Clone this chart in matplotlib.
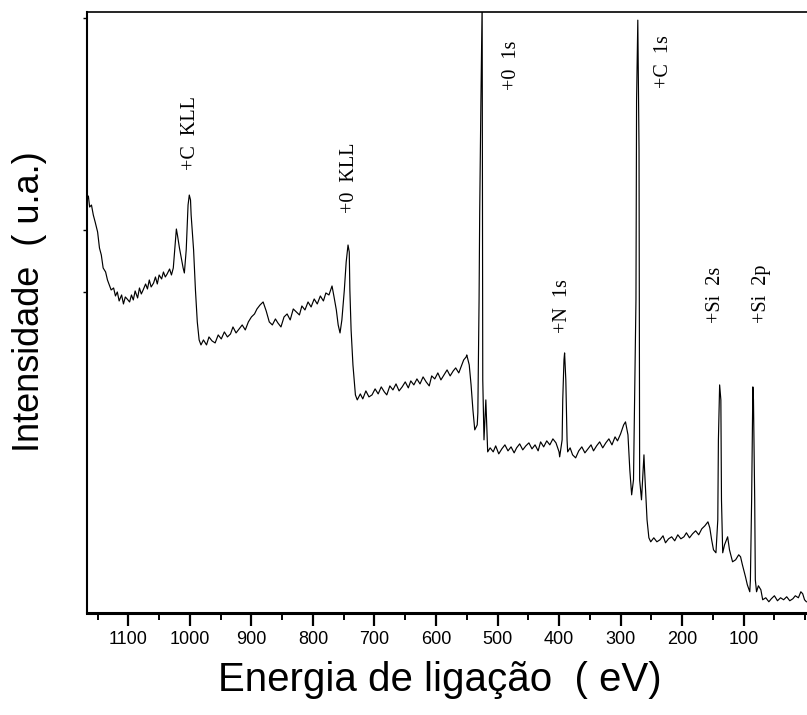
import numpy as np
import matplotlib
matplotlib.use("Agg")
import matplotlib.pyplot as plt
from matplotlib.ticker import MultipleLocator

# XPS survey spectrum (eV, arbitrary counts)
e_ckll = [1167, 1165, 1163, 1160, 1157, 1154, 1150, 1147, 1144, 1141,
          1137, 1134, 1131, 1128, 1124, 1121, 1118, 1115, 1111, 1108,
          1105, 1102, 1098, 1095, 1092, 1089, 1085, 1082, 1079, 1076,
          1072, 1069, 1066, 1063, 1059, 1056, 1053, 1050, 1046, 1043,
          1040, 1037, 1033, 1030, 1027,
          1024, 1022, 1020, 1017, 1014, 1011, 1009, 1006, 1003, 1001,
          999, 998, 994, 991, 988, 985, 982]
i_ckll = [413, 417, 406, 408, 398, 391, 381, 365, 358, 345,
          341, 333, 328, 323, 325, 317, 321, 312, 318, 309,
          316, 314, 311, 318, 313, 322, 315, 325, 319, 323,
          329, 324, 333, 326, 330, 336, 329, 338, 334, 341,
          336, 339, 344, 338, 345,
          368, 384, 377, 365, 355, 345, 340, 363, 408, 418,
          413, 398, 363, 323, 291, 273, 268]

e_okll = [978, 973, 969, 964, 959, 954, 949, 944, 939, 934,
          930, 925, 920, 915, 910, 905, 900, 895, 891, 886,
          881, 876, 871, 866, 861, 857, 852, 847, 842, 837,
          832, 827, 822, 818, 813, 808, 803, 798, 793, 788,
          783, 779, 774, 769,
          766, 762, 759, 756, 753, 749, 746, 744, 743, 741,
          740, 738, 735, 731, 728]
i_okll = [273, 268, 276, 272, 270, 278, 274, 281, 276, 279,
          286, 280, 284, 288, 283, 291, 296, 299, 304, 308,
          311, 302, 291, 288, 294, 290, 286, 296, 299, 293,
          304, 301, 298, 307, 303, 311, 306, 314, 309, 317,
          312, 320, 318, 327,
          317, 303, 288, 280, 293, 323, 351, 363, 368, 361,
          323, 283, 248, 218, 213]

e_o1s = [723, 719, 714, 709, 704, 699, 694, 689, 684, 680,
         675, 670, 665, 660, 655, 650, 645, 641, 636, 631,
         626, 621, 616, 611, 607, 602, 597, 592, 587, 582,
         577, 572, 568, 563, 558,
         555, 551, 550, 546, 543, 540, 537, 533, 532, 530,
         529, 527, 525, 524, 522, 519, 516, 512]
i_o1s = [219, 214, 222, 216, 218, 224, 219, 226, 221, 218,
         227, 223, 229, 222, 226, 231, 225, 232, 228, 234,
         229, 236, 231, 227, 237, 234, 240, 233, 238, 243,
         237, 242, 245, 240, 248,
         253, 256, 258, 248, 228, 203, 183, 188, 200, 313,
         400, 513, 610, 233, 173, 213, 161, 165]

e_n1s_c1s = [507, 503, 498, 493, 488, 483, 478, 473, 469, 464,
             459, 454, 449, 444, 439, 434, 430, 425, 420, 415,
             410, 405,
             400, 399, 395, 394, 392, 391, 389, 387, 386, 382,
             378, 373, 368, 363, 358, 353, 348, 344, 339, 334,
             329, 324, 319, 314, 309, 305, 300,
             295, 292, 288, 285, 282, 279, 275, 274, 272, 270,
             269, 266, 262, 261, 257, 254, 251]
i_n1s_c1s = [161, 167, 159, 164, 168, 162, 166, 160, 165, 169,
             163, 167, 170, 164, 168, 162, 171, 166, 172, 168,
             174, 170,
             161, 156, 173, 213, 253, 260, 233, 173, 161, 165,
             158, 155, 162, 166, 160, 164, 168, 162, 167, 171,
             165, 170, 174, 168, 176, 172, 179,
             188, 191, 178, 143, 118, 133, 313, 513, 593, 463,
             133, 113, 158, 143, 93, 75, 71]

e_si = [246, 241, 236, 231, 227, 222, 217, 212, 207, 202,
        197, 193, 188, 183, 178, 173, 168,
        163, 158, 155, 152, 149, 145, 142, 141, 139, 137,
        136, 134, 131, 126, 123, 118, 113, 108, 105, 102,
        97, 94, 90, 89, 87, 85, 84, 82, 81, 79,
        76, 72, 69]
i_si = [75, 71, 73, 77, 70, 74, 76, 72, 78, 74,
        76, 80, 75, 79, 82, 78, 84,
        87, 91, 85, 73, 63, 60, 93, 173, 228, 213,
        113, 60, 68, 76, 63, 51, 53, 58, 56, 48,
        36, 28, 21, 33, 113, 226, 213, 113, 33, 21,
        27, 23, 13]

e_tail = [64, 59, 55, 50, 45, 40, 35, 30, 25, 20, 16, 11, 7, 4, 1, -2]
i_tail = [15, 11, 14, 17, 12, 15, 13, 16, 12, 14, 17, 15, 21, 19, 13, 11]

# peak labels: text, energy, intensity where the label starts
peak_labels = ["+C  KLL", "+0  KLL", "+0  1s", "+C  1s", "+N  1s", "+Si  2s", "+Si  2p"]
peak_e = [999, 740, 478, 230, 394, 145, 71]
peak_i = [443, 400, 523, 525, 280, 290, 290]

energy = np.concatenate([e_ckll, e_okll, e_o1s, e_n1s_c1s, e_si, e_tail])
intensity = np.concatenate([i_ckll, i_okll, i_o1s, i_n1s_c1s, i_si, i_tail])

fig = plt.figure(figsize=(8.07, 7.15), dpi=100)
ax = fig.add_axes([0.108, 0.143, 0.892, 0.840])

ax.plot(energy, intensity, color="black", lw=0.85)

ax.set_xlim(1167, -3)
ax.set_ylim(0, 601)

ax.xaxis.set_minor_locator(MultipleLocator(50))
ax.set_xticks(range(100, 1101, 100))
ax.set_xticklabels([str(v) for v in range(100, 1101, 100)],
                   fontsize=13, family="Liberation Sans")
ax.tick_params(axis="x", which="major", direction="out", length=9, width=1.6, pad=4)
ax.tick_params(axis="x", which="minor", direction="out", length=5, width=1.4)

ax.set_yticks([321, 383, 595])
ax.set_yticklabels([])
ax.tick_params(axis="y", direction="out", length=3, width=1)

ax.spines["right"].set_visible(False)
ax.spines["bottom"].set_linewidth(2.2)
ax.spines["left"].set_linewidth(1.5)
ax.spines["top"].set_linewidth(1.2)

for txt, e, i in zip(peak_labels, peak_e, peak_i):
    ax.text(e, i, txt, rotation=90, ha="center", va="bottom",
            fontsize=14.5, family="Liberation Serif")

fig.text(0.5456, 0.049, "Energia de ligação  ( eV)", ha="center", va="center",
         fontsize=29, family="Liberation Sans")
fig.text(0.036, 0.578, "Intensidade  ( u.a.)", ha="center", va="center",
         rotation=90, fontsize=26, family="Liberation Sans")

plt.savefig("out.png", dpi=100)
